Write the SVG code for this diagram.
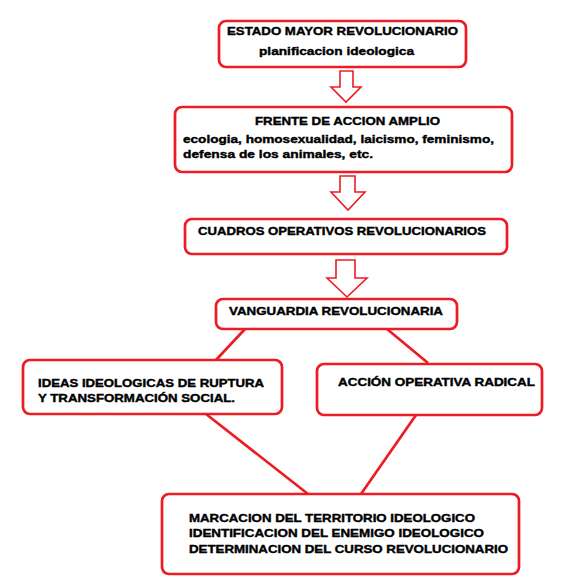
<svg xmlns="http://www.w3.org/2000/svg" width="575" height="584" viewBox="0 0 575 584">
<style>
.box{fill:#fff;stroke:#ed1c24;stroke-width:2.7}
.arr{fill:#fff;stroke:#ed1c24;stroke-width:1.6;stroke-linejoin:miter}
.ln{stroke:#ed1c24;stroke-width:2.7;fill:none}
text{font-family:"Liberation Sans",Arial,sans-serif;font-weight:bold;font-size:11.5px;fill:#000;stroke:#000;stroke-width:0.4}
</style>
<rect width="575" height="584" fill="#fff"/>
<g id="connectors">
<polygon class="arr" points="340,71 353,71 353,87 361,87 346,102 331,87 340,87"/>
<polygon class="arr" points="340,176 355,176 355,192 365,192 348,210 331,192 340,192"/>
<polygon class="arr" points="336,260 355,260 355,278 367,278 347,297 327,278 336,278"/>
<line class="ln" x1="245" y1="329" x2="216" y2="360"/>
<line class="ln" x1="387" y1="329" x2="428" y2="363"/>
<line class="ln" x1="206" y1="414" x2="308" y2="494"/>
<line class="ln" x1="416" y1="415" x2="361" y2="494"/>
</g>
<g id="n1">
<rect class="box" x="219" y="21" width="247" height="46" rx="7"/>
<text x="227" y="35" textLength="231" lengthAdjust="spacingAndGlyphs">ESTADO MAYOR REVOLUCIONARIO</text>
<text x="259" y="55" textLength="155" lengthAdjust="spacingAndGlyphs">planificacion ideologica</text>
</g>
<g id="n2">
<rect class="box" x="175" y="107" width="337" height="65" rx="7"/>
<text x="255" y="125" textLength="185" lengthAdjust="spacingAndGlyphs">FRENTE DE ACCION AMPLIO</text>
<text x="183" y="143" textLength="311" lengthAdjust="spacingAndGlyphs">ecologia, homosexualidad, laicismo, feminismo,</text>
<text x="183" y="158" textLength="190" lengthAdjust="spacingAndGlyphs">defensa de los animales, etc.</text>
</g>
<g id="n3">
<rect class="box" x="185" y="219" width="322" height="35" rx="7"/>
<text x="198" y="235" textLength="288" lengthAdjust="spacingAndGlyphs">CUADROS OPERATIVOS REVOLUCIONARIOS</text>
</g>
<g id="n4">
<rect class="box" x="216" y="299" width="241" height="30" rx="7"/>
<text x="229" y="315" textLength="214" lengthAdjust="spacingAndGlyphs">VANGUARDIA REVOLUCIONARIA</text>
</g>
<g id="n5">
<rect class="box" x="23" y="360" width="259" height="54" rx="7"/>
<text x="38" y="387" textLength="226" lengthAdjust="spacingAndGlyphs">IDEAS IDEOLOGICAS DE RUPTURA</text>
<text x="38" y="402" textLength="197" lengthAdjust="spacingAndGlyphs">Y TRANSFORMACIÓN SOCIAL.</text>
</g>
<g id="n6">
<rect class="box" x="317" y="364" width="225" height="51" rx="7"/>
<text x="338" y="386" textLength="197" lengthAdjust="spacingAndGlyphs">ACCIÓN OPERATIVA RADICAL</text>
</g>
<g id="n7">
<rect class="box" x="162" y="494" width="357" height="80" rx="7"/>
<text x="189" y="522" textLength="286" lengthAdjust="spacingAndGlyphs">MARCACION DEL TERRITORIO IDEOLOGICO</text>
<text x="189" y="537" textLength="295" lengthAdjust="spacingAndGlyphs">IDENTIFICACION DEL ENEMIGO IDEOLOGICO</text>
<text x="189" y="553" textLength="319" lengthAdjust="spacingAndGlyphs">DETERMINACION DEL CURSO REVOLUCIONARIO</text>
</g>
</svg>
